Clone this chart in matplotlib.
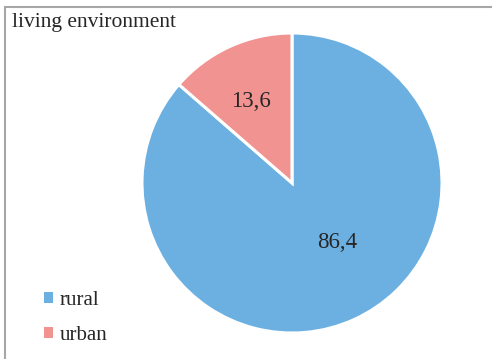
import numpy as np
import matplotlib.pyplot as plt
from matplotlib.patches import Patch, Rectangle

plt.rcParams['font.family'] = ['Liberation Serif', 'DejaVu Serif']

categories = ['rural', 'urban']
values = [86.4, 13.6]
value_labels = ['86,4', '13,6']
colors = ['#6CB0E2', '#F19391']

fig = plt.figure(figsize=(4.92, 3.59), dpi=100)

# chart area border (only top/left edges fall inside the image)
fig.add_artist(Rectangle((5 / 492, -0.2), 1.5, 1.2 - 7 / 359,
                         transform=fig.transFigure, fill=False,
                         edgecolor='#A6A6A6', linewidth=1.5))

ax = fig.add_axes([0.2886, 0.0724, 0.6098, 0.8357])
wedges, _ = ax.pie(values, colors=colors, startangle=90, counterclock=False,
                   radius=1.0, wedgeprops=dict(edgecolor='white', linewidth=2.2))
ax.set_xlim(-1, 1)
ax.set_ylim(-1, 1)
ax.set_aspect('equal')

# value labels placed inside each wedge
label_pos = [(-52.5, 0.5), (117, 0.61)]
for txt, (ang, r) in zip(value_labels, label_pos):
    a = np.deg2rad(ang)
    ax.text(r * np.cos(a), r * np.sin(a), txt, ha='center', va='center',
            fontsize=16.5, color='#262626')

fig.text(12 / 492, 1 - 22 / 359, 'living environment', ha='left', va='center',
         fontsize=15.5, color='#262626')

handles = [Patch(facecolor=c, edgecolor='none') for c in colors]
fig.legend(handles, categories, loc='center left',
           bbox_to_anchor=(25 / 492, 1 - 318 / 359), frameon=False,
           fontsize=15, handlelength=0.45, handleheight=0.45,
           handletextpad=0.3, labelspacing=0.75, labelcolor='#262626')

fig.savefig('out.png', dpi=100, facecolor='white')
